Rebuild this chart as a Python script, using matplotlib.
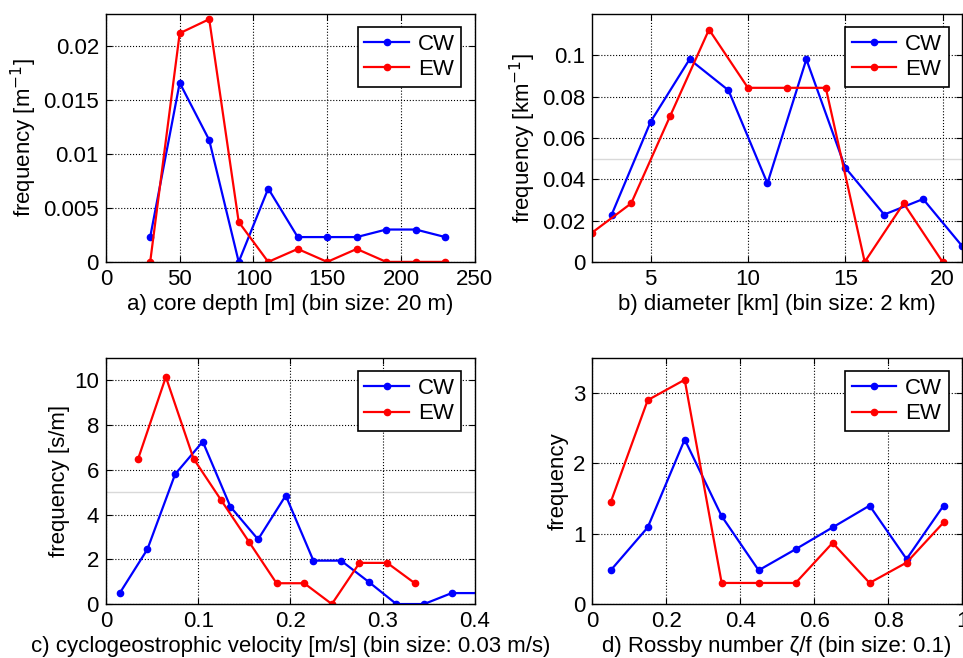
import matplotlib
matplotlib.use("Agg")
import matplotlib.pyplot as plt
from matplotlib.ticker import FormatStrFormatter

plt.rcParams["font.family"] = ["Liberation Sans", "DejaVu Sans"]
plt.rcParams["font.size"] = 16

# a) core depth
depth_x = [30, 50, 70, 90, 110, 130, 150, 170, 190, 210, 230]
depth_cw = [0.0023, 0.0166, 0.0113, 0.0, 0.0068, 0.0023, 0.0023, 0.0023, 0.0030, 0.0030, 0.0023]
depth_ew = [0.0, 0.0212, 0.0225, 0.0037, 0.0, 0.0012, 0.0, 0.0012, 0.0, 0.0, 0.0]

# b) diameter
diam_x_cw = [3, 5, 7, 9, 11, 13, 15, 17, 19, 21]
diam_cw = [0.0229, 0.0678, 0.098, 0.083, 0.038, 0.098, 0.0456, 0.0229, 0.0304, 0.0077]
diam_x_ew = [2, 4, 6, 8, 10, 12, 14, 16, 18, 20]
diam_ew = [0.0142, 0.0283, 0.0705, 0.1124, 0.0842, 0.0842, 0.0842, 0.0, 0.0283, 0.0]

# c) cyclogeostrophic velocity
vel_x_cw = [0.015, 0.045, 0.075, 0.105, 0.135, 0.165, 0.195, 0.225, 0.255, 0.285,
            0.315, 0.345, 0.375, 0.405]
vel_cw = [0.49, 2.45, 5.80, 7.26, 4.35, 2.89, 4.85, 1.94, 1.94, 0.99, 0.0, 0.0, 0.49, 0.49]
vel_x_ew = [0.035, 0.065, 0.095, 0.125, 0.155, 0.185, 0.215, 0.245, 0.275, 0.305, 0.335]
vel_ew = [6.50, 10.15, 6.50, 4.64, 2.79, 0.93, 0.93, 0.0, 1.84, 1.84, 0.93]

# d) Rossby number
ro_x = [0.05, 0.15, 0.25, 0.35, 0.45, 0.55, 0.65, 0.75, 0.85, 0.95]
ro_cw = [0.48, 1.09, 2.34, 1.25, 0.48, 0.78, 1.09, 1.40, 0.64, 1.40]
ro_ew = [1.45, 2.90, 3.19, 0.30, 0.30, 0.30, 0.87, 0.30, 0.59, 1.16]

fig = plt.figure(figsize=(9.63, 6.58), dpi=100)
ax_a = fig.add_axes([0.110, 0.602, 0.383, 0.377])
ax_b = fig.add_axes([0.615, 0.602, 0.384, 0.377])
ax_c = fig.add_axes([0.110, 0.082, 0.383, 0.374])
ax_d = fig.add_axes([0.615, 0.082, 0.384, 0.374])

style = dict(marker="o", markersize=4.5, linewidth=1.6, clip_on=True)


def draw(ax, xc, yc, xe, ye, xlim, ylim, xticks, yticks, xlabel, ylabel):
    ax.plot(xc, yc, color="#0000ff", label="CW", **style)
    ax.plot(xe, ye, color="#ff0000", label="EW", **style)
    ax.set_xlim(xlim)
    ax.set_ylim(ylim)
    ax.set_xticks(xticks)
    ax.set_yticks(yticks)
    ax.xaxis.set_major_formatter(FormatStrFormatter("%g"))
    ax.yaxis.set_major_formatter(FormatStrFormatter("%g"))
    ax.grid(True, color="black", linestyle=":", linewidth=0.8)
    ax.tick_params(direction="in", length=4, width=0.8, top=True, right=True, pad=5)
    for s in ax.spines.values():
        s.set_linewidth(1.0)
    ax.set_xlabel(xlabel, labelpad=3)
    ax.set_ylabel(ylabel, labelpad=3)
    leg = ax.legend(loc="upper right", fancybox=False, framealpha=1,
                    edgecolor="black", handlelength=2.0, borderpad=0.3,
                    labelspacing=0.2, handletextpad=0.4, borderaxespad=0.6)
    leg.get_frame().set_linewidth(1.2)


draw(ax_a, depth_x, depth_cw, depth_x, depth_ew, (0, 250), (0, 0.023),
     [0, 50, 100, 150, 200, 250], [0, 0.005, 0.01, 0.015, 0.02],
     "a) core depth [m] (bin size: 20 m)", "frequency [m$^{-1}$]")

ax_b.axhline(0.05, color="#d9d9d9", linewidth=1.0, zorder=1)
draw(ax_b, diam_x_cw, diam_cw, diam_x_ew, diam_ew, (2, 21), (0, 0.12),
     [5, 10, 15, 20], [0, 0.02, 0.04, 0.06, 0.08, 0.1],
     "b) diameter [km] (bin size: 2 km)", "frequency [km$^{-1}$]")

ax_c.axhline(5, color="#d9d9d9", linewidth=1.0, zorder=1)
draw(ax_c, vel_x_cw, vel_cw, vel_x_ew, vel_ew, (0, 0.4), (0, 11),
     [0, 0.1, 0.2, 0.3, 0.4], [0, 2, 4, 6, 8, 10],
     "c) cyclogeostrophic velocity [m/s] (bin size: 0.03 m/s)", "frequency [s/m]")

draw(ax_d, ro_x, ro_cw, ro_x, ro_ew, (0, 1), (0, 3.5),
     [0, 0.2, 0.4, 0.6, 0.8, 1], [0, 1, 2, 3],
     "d) Rossby number \u03b6/f (bin size: 0.1)", "frequency")

fig.savefig("out.png", dpi=100)
